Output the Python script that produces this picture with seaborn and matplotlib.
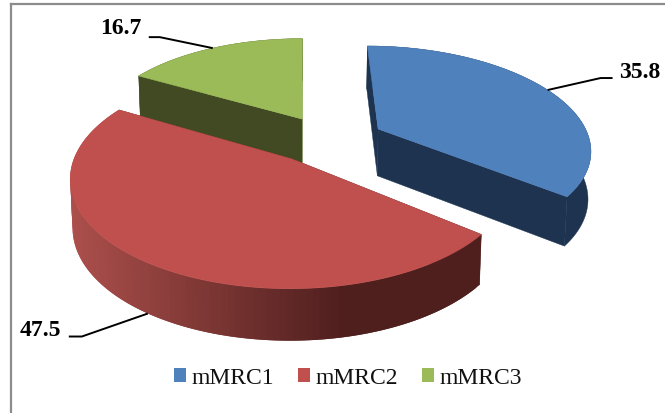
import numpy as np
import matplotlib
matplotlib.use("Agg")
import matplotlib.pyplot as plt
from matplotlib.patches import Patch, Polygon
from matplotlib.colors import to_rgb
import seaborn as sns

# Shares of patients per mMRC grade
categories = ["mMRC1", "mMRC2", "mMRC3"]
values = [35.8, 47.5, 16.7]
top_colors = ["#4f81bd", "#c0504d", "#9bbb59"]
rim_colors = ["#1e3350", "#4f1f1e", "#414a22"]
start_wall_colors = ["#1e3350", "#4f1f1e", "#414a22"]
end_wall_colors = ["#1e3350", "#4f1f1e", "#7d9a48"]

# Explosion of each slice on the ground plane (pixels across, radii towards the back)
explode_x = [79.0, -11.0, -1.0]
explode_v = [0.295, 0.0, 0.40]
draw_order = [2, 0, 1]

# Leader line offsets from each slice's arc midpoint, and the label position
elbows = [(53, -12), (-66, 23), (-53, -11)]
line_ends = [(65, -12), (-79, 23), (-64, -11)]
label_xy = [(640, 72), (40, 330), (121, 28)]

# Projection of the tilted pie
CX, CY = 303.0, 160.0
RADIUS_X = 218.0
RADIUS_V = 107.0
PERSPECTIVE = 0.175


def project(x, v):
    d = 1 + PERSPECTIVE * v
    return CX + x / d, CY - RADIUS_V * v / d


def wall_drop(v):
    return 48.0 - 4.0 * v


def lower(x, v):
    px, py = project(x, v)
    return CX + (px - CX) * 0.99, py + wall_drop(v)


def red_wall_color(x):
    t = np.clip((x - 68.0) / (345.0 - 68.0), 0, 1)
    a, b = np.array(to_rgb("#ad504c")), np.array(to_rgb("#4f1f1e"))
    return tuple(a + (b - a) * t)


sns.set_theme(style="white")
plt.rcParams["font.family"] = ["Liberation Serif", "DejaVu Serif"]

W, H = 665, 414
fig = plt.figure(figsize=(W / 100, H / 100), dpi=100)
ax = fig.add_axes([11 / W, 0, (W - 11) / W, (H - 5) / H])
ax.set_xlim(11, W)
ax.set_ylim(H, 5)
ax.set_xticks([])
ax.set_yticks([])
sns.despine(ax=ax, top=False, left=False, right=True, bottom=True)
for side in ("top", "left"):
    ax.spines[side].set_color("#8c8c8c")
    ax.spines[side].set_linewidth(1.6)

fractions = np.array(values) / np.sum(values)
starts = np.concatenate([[0], np.cumsum(fractions)[:-1]]) * 2 * np.pi
ends = np.cumsum(fractions) * 2 * np.pi

for i in draw_order:
    ox, ov = explode_x[i], explode_v[i]
    th = np.linspace(starts[i], ends[i], 120)
    xs = ox + RADIUS_X * np.sin(th)
    vs = ov + np.cos(th)

    # Radial side walls
    for k, col in ((-1, end_wall_colors[i]), (0, start_wall_colors[i])):
        quad = [project(ox, ov), project(xs[k], vs[k]), lower(xs[k], vs[k]), lower(ox, ov)]
        ax.add_patch(Polygon(quad, closed=True, fc=col, ec=col, lw=0.3))

    # Outer rim: one shape for flat colours, strips for the shaded red slice
    if i == 1:
        for j in range(len(th) - 1):
            j2 = min(j + 2, len(th) - 1)
            quad = [project(xs[j], vs[j]), project(xs[j2], vs[j2]),
                    lower(xs[j2], vs[j2]), lower(xs[j], vs[j])]
            col = red_wall_color(project(xs[j], vs[j])[0])
            ax.add_patch(Polygon(quad, closed=True, fc=col, ec="none", lw=0))
    else:
        rim = [project(a, b) for a, b in zip(xs, vs)] + \
              [lower(a, b) for a, b in zip(xs[::-1], vs[::-1])]
        ax.add_patch(Polygon(rim, closed=True, fc=rim_colors[i], ec=rim_colors[i], lw=0.3))

    # Top face
    pts = [project(ox, ov)] + [project(a, b) for a, b in zip(xs, vs)]
    ax.add_patch(Polygon(pts, closed=True, fc=top_colors[i], ec=top_colors[i], lw=0.4))

# Value labels with elbowed leader lines
for i, val in enumerate(values):
    mid = 0.5 * (starts[i] + ends[i])
    x = explode_x[i] + RADIUS_X * np.sin(mid)
    v = explode_v[i] + np.cos(mid)
    px, py = lower(x, v) if i == 1 else project(x, v)
    ex, ey = elbows[i]
    fx, fy = line_ends[i]
    ax.plot([px, px + ex, px + fx], [py, py + ey, py + fy],
            color="black", lw=1.4, solid_capstyle="butt", solid_joinstyle="round")
    ax.text(*label_xy[i], f"{val:.1f}", ha="center", va="center",
            fontsize=17, fontweight="bold", color="black")

handles = [Patch(fc=c, ec="none", label=n) for c, n in zip(top_colors, categories)]
fig.legend(handles=handles, ncol=3, frameon=False, loc="center",
           bbox_to_anchor=(348 / W, 1 - 379 / H), fontsize=17,
           handlelength=0.5, handleheight=0.5, handletextpad=0.22,
           columnspacing=1.03, borderpad=0, labelcolor="#111111")

fig.savefig("out.png", dpi=100)
